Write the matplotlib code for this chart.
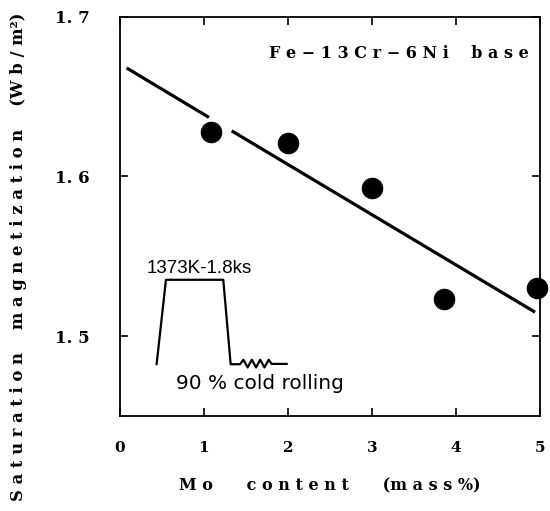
import matplotlib
matplotlib.use("Agg")
import matplotlib.pyplot as plt

# measured points: Mo content (mass%) vs saturation magnetization (Wb/m2)
mo_content = [1.08, 2.0, 3.0, 3.86, 4.96]
sat_mag = [1.628, 1.621, 1.593, 1.523, 1.530]

# fitted line, drawn in two parts (broken around the first point)
fit_x1 = [0.08, 1.06]
fit_y1 = [1.668, 1.637]
fit_x2 = [1.33, 4.94]
fit_y2 = [1.6286, 1.515]

# heat treatment schematic (inset sketch)
sketch_x = [0.437, 0.548, 1.230, 1.318, 1.429, 1.47, 1.52, 1.57, 1.62, 1.67, 1.72, 1.77, 1.806, 1.984]
sketch_y = [1.4825, 1.5353, 1.5353, 1.4824, 1.4824, 1.4852, 1.4804, 1.4852, 1.4804, 1.4852, 1.4804, 1.4852, 1.4826, 1.4826]

xticks = [0, 1, 2, 3, 4, 5]
xticklabels = ["0", "1", "2", "3", "4", "5"]
yticks = [1.5, 1.6, 1.7]
yticklabels = ["1. 5", "1. 6", "1. 7"]

serif = "DejaVu Serif"

fig = plt.figure(figsize=(5.5, 5.11), dpi=100)
ax = fig.add_axes([0.218, 0.186, 0.764, 0.781])

ax.plot(fit_x1, fit_y1, color="black", lw=2.3, solid_capstyle="butt")
ax.plot(fit_x2, fit_y2, color="black", lw=2.3, solid_capstyle="butt")
ax.plot(mo_content, sat_mag, "o", color="black", ms=14.5, clip_on=False, zorder=5)

ax.plot(sketch_x, sketch_y, color="black", lw=1.6)
ax.text(0.94, 1.537, "1373K-1.8ks", fontsize=13.5,
        family=["Liberation Sans Narrow", "Liberation Sans"],
        ha="center", va="bottom")
ax.text(1.67, 1.4706, "90 % cold rolling", fontsize=14.5, family="DejaVu Sans",
        ha="center", va="center")

ax.text(4.87, 1.677, "F e − 1 3 C r − 6 N i    b a s e", fontsize=11.5,
        family=serif, fontweight="bold", ha="right", va="center")

ax.set_xlim(0, 5)
ax.set_ylim(1.45, 1.7)
ax.set_xticks(xticks)
ax.set_xticklabels(xticklabels, family=serif, fontweight="bold", fontsize=11)
ax.set_yticks(yticks)
ax.set_yticklabels(yticklabels, family=serif, fontweight="bold", fontsize=12)
ax.tick_params(direction="in", length=6, width=1.2, top=True, right=True,
               labeltop=False, labelright=False)
ax.tick_params(axis="x", pad=18)
ax.tick_params(axis="y", pad=22)
for s in ax.spines.values():
    s.set_linewidth(1.3)

ax.set_xlabel("M o      c o n t e n t      (m a s s %)", family=serif,
              fontweight="bold", fontsize=11.5, labelpad=16)
ax.set_ylabel("S a t u r a t i o n    m a g n e t i z a t i o n    (W b / m²)",
              family=serif, fontweight="bold", fontsize=11.8)
ax.yaxis.set_label_coords(-0.221, 0.40)

fig.savefig("out.png", dpi=100)
